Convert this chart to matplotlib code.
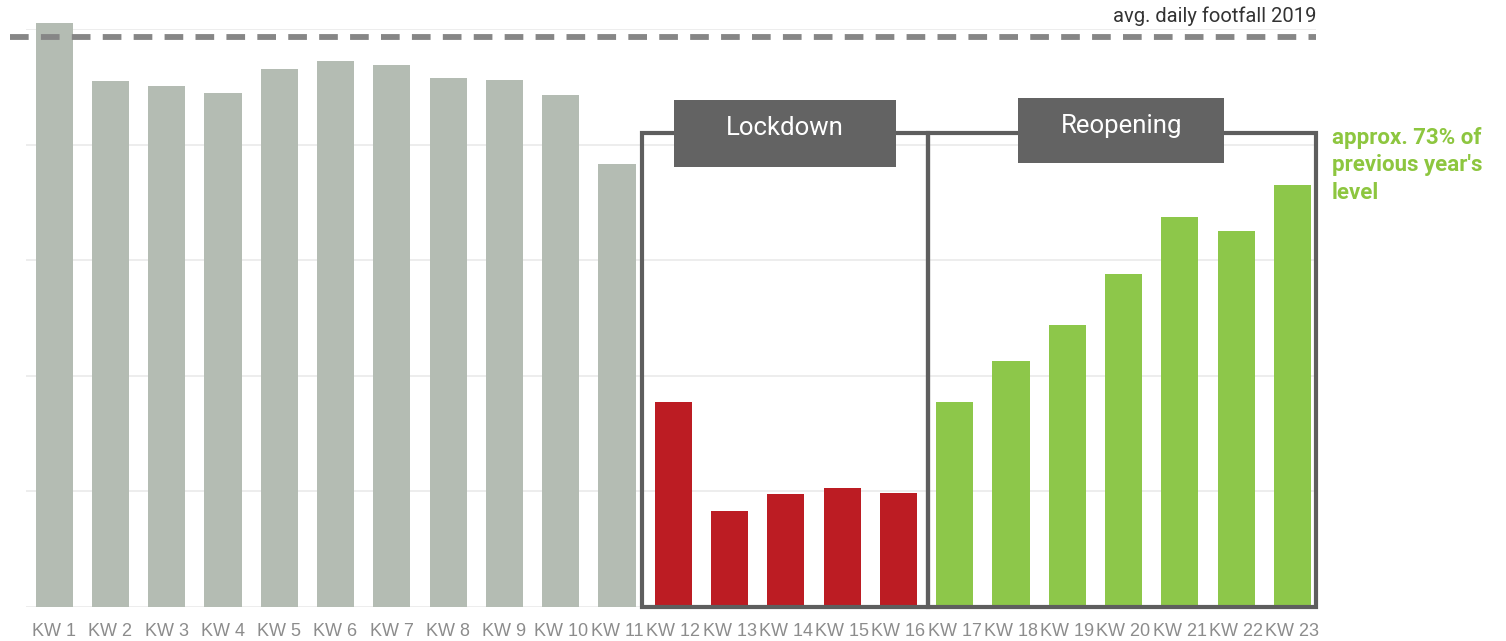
import matplotlib
matplotlib.use("Agg")
import matplotlib.pyplot as plt
from matplotlib.patches import Rectangle

weeks = [f"KW {i}" for i in range(1, 24)]
footfall = [5.05, 4.55, 4.51, 4.45, 4.65, 4.72, 4.69, 4.58, 4.56, 4.43, 3.83,
            1.77, 0.83, 0.98, 1.03, 0.99,
            1.77, 2.13, 2.44, 2.88, 3.37, 3.25, 3.65]
phase = ["pre"] * 11 + ["lockdown"] * 5 + ["reopening"] * 7
avg_2019 = 4.93

colors = {"pre": "#b4bcb3", "lockdown": "#bc1c23", "reopening": "#8dc74a"}
box_col = "#5e5e5e"
label_fill = "#636363"

fig = plt.figure(figsize=(15.06, 6.41), dpi=100)
ax = fig.add_axes([26 / 1506, 34 / 641, (1316 - 26) / 1506, (612 - 34) / 641])

x = list(range(len(weeks)))
bars = ax.bar(x, footfall, width=0.66, color=[colors[p] for p in phase], zorder=2)
for b in bars:
    b.set_clip_on(False)

ax.set_xlim(-0.5, 22.42)
ax.set_ylim(0, 5)
ax.set_yticks([0, 1, 2, 3, 4, 5])
ax.yaxis.grid(True, color="#e8e8e8", linewidth=1.1, zorder=0)
ax.tick_params(axis="y", left=False, labelleft=False)
ax.tick_params(axis="x", bottom=False, pad=8)
ax.set_xticks(x)
ax.set_xticklabels(weeks, fontfamily="Liberation Sans", fontsize=13, color="#8c8c8c")
for s in ax.spines.values():
    s.set_visible(False)

# dashed 2019 average line
ax.plot([-0.78, 22.42], [avg_2019, avg_2019], linestyle=(0, (3.2, 2.1)),
        color="#868686", linewidth=4.2, clip_on=False, zorder=3,
        dash_capstyle="butt")
ax.text(22.42, 5.03, "avg. daily footfall 2019", ha="right", va="bottom",
        fontfamily="Roboto", fontsize=14.5, color="#333333")

# phase boxes
lock_idx = [i for i, p in enumerate(phase) if p == "lockdown"]
reop_idx = [i for i, p in enumerate(phase) if p == "reopening"]
box_top = 4.10
lw = 3.0
l0, l1 = lock_idx[0] - 0.55, lock_idx[-1] + 0.53
r0, r1 = reop_idx[0] - 0.47, 22.42
for a, b in [(l0, l1), (r0, r1)]:
    ax.add_patch(Rectangle((a, 0), b - a, box_top, fill=False, edgecolor=box_col,
                           linewidth=lw, zorder=4, clip_on=False))

# labels
def label(xc, y0, y1, w, text):
    ax.add_patch(Rectangle((xc - w / 2, y0), w, y1 - y0, facecolor=label_fill,
                           edgecolor="none", zorder=5, clip_on=False))
    ax.text(xc, (y0 + y1) / 2 + 0.04, text, ha="center", va="center", color="white",
            fontfamily="Roboto", fontsize=18.5, zorder=6)

label(12.98, 3.81, 4.39, 3.95, "Lockdown")
label(18.96, 3.84, 4.40, 3.66, "Reopening")

fig.text(1332 / 1506, 1 - 127 / 641, "approx. 73% of\nprevious year's\nlevel",
         ha="left", va="top", color="#8dc63f", fontweight="bold",
         fontfamily="Roboto", fontsize=16, linespacing=1.32)

fig.savefig("out.png", dpi=100)
